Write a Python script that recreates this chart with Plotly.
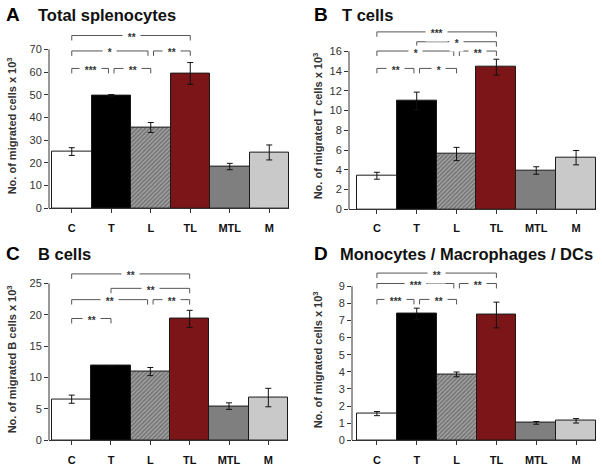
import plotly.graph_objects as go

W, H = 602, 471
FONT = "Arial, Liberation Sans, sans-serif"

categories = ["C", "T", "L", "TL", "MTL", "M"]

# Panel A - total splenocytes
total_vals = [25.0, 49.6, 35.6, 59.4, 18.4, 24.6]
total_err = [1.7, 0.5, 2.2, 4.8, 1.4, 3.3]
total_ticks = [0, 10, 20, 30, 40, 50, 60, 70]
total_sig = [(0, 3, 76.1, "**"), (0, 2, 69.3, "*"), (2, 3, 69.3, "**"),
             (0, 1, 61.6, "***"), (1, 2, 61.6, "**")]

# Panel B - T cells
tcell_vals = [3.4, 10.97, 5.6, 14.4, 3.93, 5.23]
tcell_err = [0.35, 0.9, 0.67, 0.8, 0.38, 0.73]
tcell_ticks = [0, 2, 4, 6, 8, 10, 12, 14, 16]
tcell_sig = [(0, 3, 17.97, "***"), (1, 3, 16.97, "*"), (0, 2, 16.03, "*"),
             (2, 3, 16.03, "**"), (0, 1, 14.27, "**"), (1, 2, 14.27, "*")]

# Panel C - B cells
bcell_vals = [6.55, 11.85, 10.95, 19.34, 5.45, 6.81]
bcell_err = [0.65, 0.0, 0.65, 1.36, 0.52, 1.47]
bcell_ticks = [0, 5, 10, 15, 20, 25]
bcell_sig = [(0, 3, 26.5, "**"), (1, 3, 24.2, "**"), (0, 2, 22.4, "**"),
             (2, 3, 22.4, "**"), (0, 1, 19.4, "**")]

# Panel D - Monocytes / Macrophages / DCs
mono_vals = [1.56, 7.4, 3.85, 7.32, 1.02, 1.14]
mono_err = [0.12, 0.32, 0.14, 0.75, 0.08, 0.13]
mono_ticks = [0, 1, 2, 3, 4, 5, 6, 7, 8, 9]
mono_sig = [(0, 3, 9.77, "**"), (0, 2, 9.16, "***"), (2, 3, 9.16, "**"),
            (0, 1, 8.23, "***"), (1, 2, 8.23, "**")]

bar_colors = ["#ffffff", "#000000", "#a8a8a8", "#7b1517", "#7f7f7f", "#c9c9c9"]
bar_patterns = ["", "", "/", "", "", ""]


def px_x(p):
    return p / W


def px_y(p):
    return 1 - p / H


panels = [
    dict(vals=total_vals, err=total_err, sig=total_sig, ticks=total_ticks,
         letter="A", title="Total splenocytes",
         ytitle="No. of migrated cells x 10<sup>3</sup>",
         xdom=(49, 289), ydom=(30, 211), xr=[-0.576, 5.5], yr=[0, 78.7],
         letter_x=4, title_x=36, head_y=15, ytitle_pos=(12, 128)),
    dict(vals=tcell_vals, err=tcell_err, sig=tcell_sig, ticks=tcell_ticks,
         letter="B", title="T cells",
         ytitle="No. of migrated T cells x 10<sup>3</sup>",
         xdom=(349, 596), ydom=(25, 212), xr=[-0.70, 5.5], yr=[0, 18.7],
         letter_x=312, title_x=340, head_y=15, ytitle_pos=(318, 128)),
    dict(vals=bcell_vals, err=bcell_err, sig=bcell_sig, ticks=bcell_ticks,
         letter="C", title="B cells",
         ytitle="No. of migrated B cells x 10<sup>3</sup>",
         xdom=(49, 288), ydom=(270, 446), xr=[-0.576, 5.5], yr=[0, 27.67],
         letter_x=4, title_x=36, head_y=257, ytitle_pos=(12, 364)),
    dict(vals=mono_vals, err=mono_err, sig=mono_sig, ticks=mono_ticks,
         letter="D", title="Monocytes / Macrophages / DCs",
         ytitle="No. of migrated cells x 10<sup>3</sup>",
         xdom=(352, 596), ydom=(270, 446), xr=[-0.626, 5.5], yr=[0, 10.15],
         letter_x=312, title_x=338, head_y=257, ytitle_pos=(318, 365)),
]

fig = go.Figure()
shapes = []
annotations = []
layout = {}

for k, p in enumerate(panels, start=1):
    sfx = "" if k == 1 else str(k)
    xa, ya = "x" + sfx, "y" + sfx
    fig.add_trace(go.Bar(
        x=list(range(len(categories))), y=p["vals"], xaxis=xa, yaxis=ya,
        width=1.0,
        marker=dict(color=bar_colors, line=dict(color="#1a1a1a", width=1),
                    pattern=dict(shape=bar_patterns, fgcolor="#2a2a2a",
                                 fillmode="overlay", size=3, solidity=0.6)),
        error_y=dict(type="data", array=p["err"], visible=True,
                     color="#111111", thickness=1, width=3),
        showlegend=False, hoverinfo="skip"))

    layout["xaxis" + sfx] = dict(
        domain=[px_x(p["xdom"][0]), px_x(p["xdom"][1])], range=p["xr"],
        anchor=ya, tickvals=list(range(len(categories))), ticktext=categories,
        showline=True, linecolor="#333333", linewidth=1,
        ticks="outside", tickson="boundaries", ticklen=4, tickcolor="#333333",
        ticklabelstandoff=5,
        showgrid=False, zeroline=False,
        tickfont=dict(family=FONT, size=11, color="#111111", weight="bold"))
    layout["yaxis" + sfx] = dict(
        domain=[px_y(p["ydom"][1]), px_y(p["ydom"][0])], range=p["yr"],
        anchor=xa, tickvals=p["ticks"], showline=False,
        ticks="outside", ticklen=4, tickcolor="#333333",
        showgrid=False, zeroline=False,
        tickfont=dict(family=FONT, size=11, color="#333333"))

    # y axis line only up to top tick
    shapes.append(dict(type="line", xref=xa + " domain", yref=ya,
                       x0=0, x1=0, y0=0, y1=max(p["ticks"]),
                       line=dict(color="#333333", width=1)))

    ppu = (p["ydom"][1] - p["ydom"][0]) / (p["yr"][1] - p["yr"][0])
    drop = 5 / ppu
    for (i, j, lev, lab) in p["sig"]:
        same_row = [s for s in p["sig"] if abs(s[2] - lev) < 1e-9]
        x0 = i + (0.07 if any(s[1] == i for s in same_row) else 0)
        x1 = j - (0.07 if any(s[0] == j for s in same_row) else 0)
        path = f"M {x0},{lev - drop} L {x0},{lev} L {x1},{lev} L {x1},{lev - drop}"
        shapes.append(dict(type="path", xref=xa, yref=ya, path=path,
                           line=dict(color="#555555", width=1)))
        annotations.append(dict(
            xref=xa, yref=ya, x=(x0 + x1) / 2, y=lev,
            text="\u00a0" + lab + "\u00a0", showarrow=False,
            bgcolor="white", borderpad=2, yshift=-2,
            xanchor="center", yanchor="middle",
            font=dict(family=FONT, size=10, color="#333333", weight="bold")))

    annotations.append(dict(
        xref="paper", yref="paper", x=px_x(p["letter_x"]), y=px_y(p["head_y"]),
        text=p["letter"], showarrow=False, xanchor="left", yanchor="middle",
        font=dict(family=FONT, size=19, color="#000000", weight="bold")))
    annotations.append(dict(
        xref="paper", yref="paper", x=px_x(p["title_x"]), y=px_y(p["head_y"]),
        text=p["title"], showarrow=False, xanchor="left", yanchor="middle",
        font=dict(family=FONT, size=16.5, color="#111111", weight="bold")))
    annotations.append(dict(
        xref="paper", yref="paper", x=px_x(p["ytitle_pos"][0]),
        y=px_y(p["ytitle_pos"][1]), text=p["ytitle"], textangle=-90,
        showarrow=False, xanchor="center", yanchor="middle",
        font=dict(family=FONT, size=11, color="#333333", weight="bold")))

fig.update_layout(
    width=W, height=H, margin=dict(l=0, r=0, t=0, b=0),
    paper_bgcolor="white", plot_bgcolor="rgba(0,0,0,0)",
    barmode="group", bargap=0, shapes=shapes, annotations=annotations,
    font=dict(family=FONT), **layout)

fig.write_html("out.html", config={"displayModeBar": False},
               post_script="document.body.style.margin='0';"
                           "document.body.style.overflow='hidden';")
